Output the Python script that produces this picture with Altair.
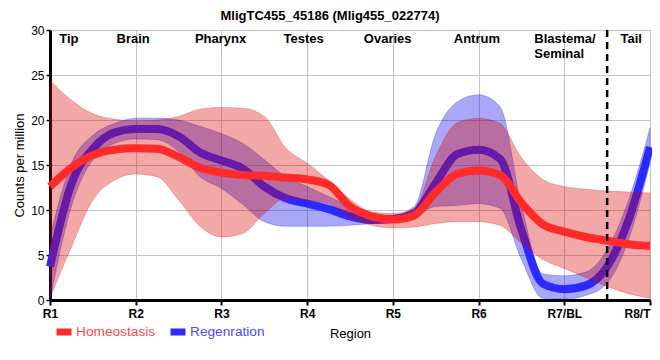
import altair as alt
import pandas as pd

# ---- data ----
x_pos = [1, 1.25, 1.5, 1.75, 2, 2.25, 2.5, 2.75, 3, 3.25, 3.5, 3.75, 4, 4.25, 4.5, 4.75,
         5, 5.25, 5.5, 5.75, 6, 6.25, 6.5, 6.75, 7, 7.25, 7.5, 7.75, 8]

homeo_mean = [12.6, 14.7, 16.1, 16.7, 16.85, 16.8, 15.9, 14.7, 14.15, 13.9, 13.8, 13.6, 13.4, 12.8, 10.4, 9.3,
              8.95, 9.4, 12.0, 14.0, 14.4, 13.9, 10.8, 8.4, 7.6, 7.0, 6.6, 6.2, 6.0]
homeo_lo = [0.2, 5.9, 11.1, 13.3, 14.0, 13.7, 11.1, 8.2, 7.0, 7.4, 9.6, 11.3, 11.1, 10.7, 9.2, 8.3,
            8.0, 8.1, 8.5, 8.7, 8.7, 8.3, 6.3, 4.5, 3.5, 2.5, 1.5, 0.7, 0.2]
homeo_hi = [24.4, 22.2, 20.7, 20.1, 19.9, 20.0, 20.4, 21.2, 21.4, 21.3, 20.4, 16.9, 15.2, 13.3, 11.2, 9.8,
            9.6, 10.2, 16.0, 19.7, 20.2, 19.6, 15.8, 13.4, 12.6, 12.3, 12.1, 12.0, 11.9]

regen_mean = [3.7, 12.9, 16.8, 18.6, 19.0, 19.0, 18.2, 16.4, 15.5, 14.6, 12.6, 11.3, 10.7, 10.1, 9.3, 8.9,
              9.0, 9.6, 13.0, 16.2, 16.7, 15.7, 7.8, 1.8, 1.2, 1.6, 3.7, 8.9, 17.0]
regen_lo = [0.0, 10.4, 15.6, 17.4, 17.9, 17.8, 16.5, 13.7, 12.4, 10.6, 8.7, 8.2, 8.2, 8.2, 8.3, 8.5,
            8.6, 9.2, 10.4, 10.5, 10.7, 10.2, 4.5, 0.2, 0.1, 0.5, 1.85, 6.7, 15.2]
regen_hi = [7.0, 15.2, 18.3, 19.6, 20.2, 20.2, 20.0, 19.3, 18.5, 17.4, 15.6, 13.7, 12.6, 11.5, 10.4, 9.6,
            9.4, 10.4, 18.5, 22.0, 22.8, 21.5, 10.5, 2.9, 2.7, 3.1, 5.6, 11.1, 19.1]

series_names = ["Homeostasis", "Regenration"]
tick_labels = ["R1", "R2", "R3", "R4", "R5", "R6", "R7/BL", "R8/T"]
region_names = ["Tip", "Brain", "Pharynx", "Testes", "Ovaries", "Antrum", "Tail"]
region_x = [1.22, 1.97, 2.99, 3.96, 4.94, 5.98, 7.78]
blastema_label = ["Blastema/\nSeminal"]
blastema_x = [6.65]
divider_x = [7.5]

# ---- tables ----
df_h = pd.DataFrame({"x": x_pos, "mean": homeo_mean, "lo": homeo_lo, "hi": homeo_hi,
                     "series": series_names[0]})
df_r = pd.DataFrame({"x": x_pos, "mean": regen_mean, "lo": regen_lo, "hi": regen_hi,
                     "series": series_names[1]})
df_regions = pd.DataFrame({"x": region_x, "label": region_names})
df_blast = pd.DataFrame({"x": blastema_x, "label": blastema_label})
df_div = pd.DataFrame({"x": divider_x})

FONT = "Liberation Sans"
label_js = "[" + ",".join("'" + t + "'" for t in tick_labels) + "]"

x_enc = alt.X("x:Q",
              scale=alt.Scale(domain=[1, 8], nice=False, zero=False),
              axis=alt.Axis(values=list(range(1, 9)),
                            labelExpr=label_js + "[datum.value - 1]",
                            labelAlign={"expr": "datum.value == 8 ? 'right' : 'center'"},
                            labelFlush=False, labelOverlap=False, labelBound=False,
                            title="Region", titleFontWeight="normal", titleFontSize=13,
                            titleFont=FONT, titlePadding=8, titleColor="black",
                            labelFont=FONT, labelFontSize=12, labelFontWeight="bold",
                            labelColor="black", labelPadding=3,
                            domainColor="black", domainWidth=3,
                            tickColor="black", tickWidth=2, tickSize=5,
                            gridColor="#c4c4c4", gridWidth=1))
y_scale = alt.Scale(domain=[0, 30], nice=False)
y_axis = alt.Axis(values=[0, 5, 10, 15, 20, 25, 30], title="Counts per million",
                  titleFont=FONT, titleFontSize=13, titleFontWeight="normal", titleColor="black",
                  titlePadding=4,
                  labelFont=FONT, labelFontSize=12, labelColor="black", labelPadding=2,
                  domainColor="black", domainWidth=3,
                  tickColor="black", tickWidth=1.5, tickSize=4,
                  gridColor="#c4c4c4", gridWidth=1)

color_scale = alt.Scale(domain=series_names, range=["#ff2a2a", "#2a2aff"])
legend = alt.Legend(title=None, orient="none", legendX=3, legendY=291, direction="horizontal",
                    symbolType="stroke", symbolStrokeWidth=7, symbolSize=225,
                    labelFont=FONT, labelFontSize=13.7, labelOffset=1, columnPadding=0,
                    symbolOffset=0, padding=0,
                    labelColor={"expr": "datum.label == 'Homeostasis' ? '#ff4a4a' : '#4a4aff'"})


def band(df, color):
    return alt.Chart(df).mark_area(fill=color, fillOpacity=0.34, stroke=color, strokeOpacity=0.25,
                                   strokeWidth=1, interpolate="monotone").encode(
        x=x_enc, y=alt.Y("lo:Q", scale=y_scale, axis=y_axis), y2="hi:Q")


def line(df):
    return alt.Chart(df).mark_line(strokeWidth=8, strokeCap="butt", interpolate="monotone").encode(
        x=x_enc, y=alt.Y("mean:Q", scale=y_scale, axis=y_axis),
        color=alt.Color("series:N", scale=color_scale, legend=legend))


divider = alt.Chart(df_div).mark_rule(color="black", strokeWidth=2.5, strokeDash=[7, 5]).encode(
    x=alt.X("x:Q"))

region_text = alt.Chart(df_regions).mark_text(font=FONT, fontSize=13, fontWeight="bold",
                                              baseline="top", align="center", color="black").encode(
    x=alt.X("x:Q"), y=alt.value(3), text="label:N")

blast_text = alt.Chart(df_blast).mark_text(font=FONT, fontSize=13, fontWeight="bold",
                                           baseline="top", align="left", color="black",
                                           lineBreak="\n", lineHeight=15).encode(
    x=alt.X("x:Q"), y=alt.value(3), text="label:N")

chart = alt.layer(
    band(df_r, "#0000e6"),
    line(df_r),
    band(df_h, "#dd0000"),
    line(df_h),
    divider,
    region_text,
    blast_text,
).properties(
    width=600, height=270,
    title=alt.TitleParams("MligTC455_45186 (Mlig455_022774)", font=FONT, fontSize=13,
                          fontWeight="bold", color="black", offset=1, dx=-20),
    autosize=alt.AutoSizeParams(type="none"),
    padding={"left": 42, "top": 22, "right": 2, "bottom": 50},
).configure_view(stroke="black", strokeWidth=1).configure(background="white")

chart.save("out.html", embed_options={"renderer": "svg", "actions": False})
